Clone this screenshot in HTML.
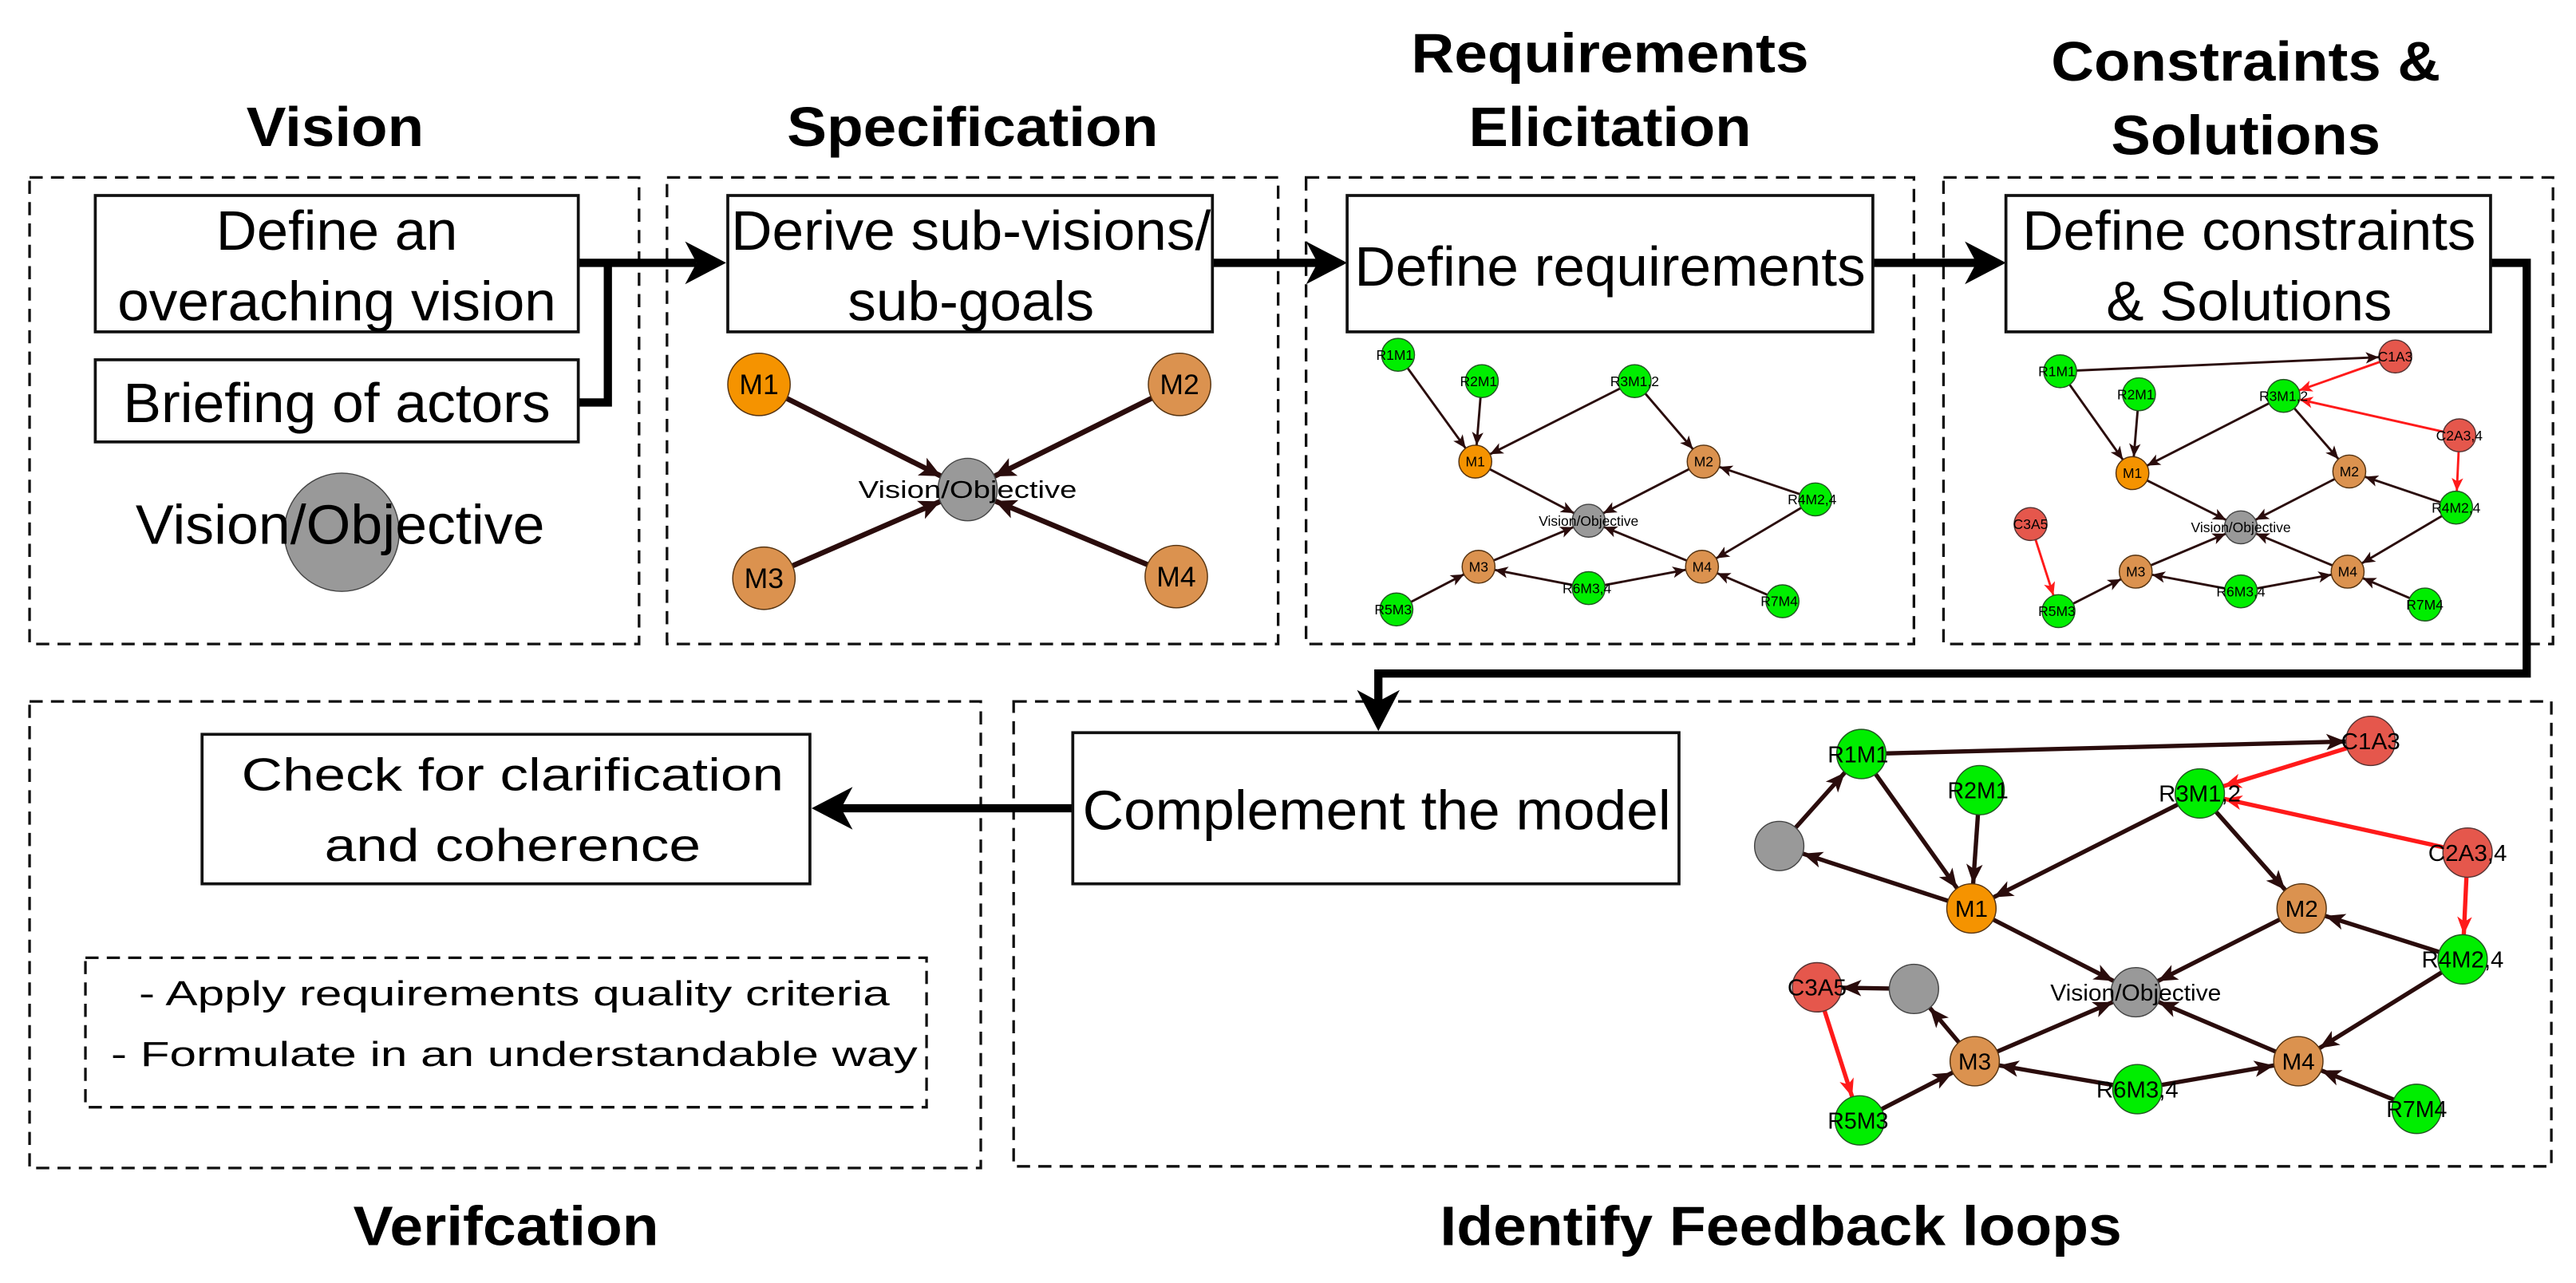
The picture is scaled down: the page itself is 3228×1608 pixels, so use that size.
<!DOCTYPE html>
<html><head><meta charset="utf-8"><style>
html,body{margin:0;padding:0;background:#fff;}
svg{display:block;}
text{font-family:"Liberation Sans Narrow","Liberation Sans",sans-serif;fill:#000;}
.t{font-weight:bold;font-size:34px;}
.b{font-size:34px;}
.s{font-size:8.5px;}
.g{font-size:14px;}
.db{fill:none;stroke:#111;stroke-width:1.6;stroke-dasharray:8 5;}
.sb{fill:#fff;stroke:#111;stroke-width:1.8;}
.fl{stroke:#000;stroke-width:5;fill:none;}
.eB{stroke:#2a0c0c;stroke-width:2.6;marker-end:url(#mB);}
.rB{stroke:#ff1a1a;stroke-width:2.6;marker-end:url(#mBr);}
.eS{stroke:#2a0c0c;stroke-width:1.4;marker-end:url(#mS);}
.rS{stroke:#ff1a1a;stroke-width:1.4;marker-end:url(#mSr);}
.eP{stroke:#2a0c0c;stroke-width:3.2;marker-end:url(#mP);}
.gr{fill:#00ee00;stroke:#225522;stroke-width:.7;}
.rd{fill:#e5574c;stroke:#553333;stroke-width:.7;}
.o1{fill:#f59300;stroke:#553311;stroke-width:.7;}
.o2{fill:#db924f;stroke:#553311;stroke-width:.7;}
.gy{fill:#999;stroke:#444;stroke-width:.7;}
</style></head><body>
<svg width="3228" height="1608" viewBox="0 0 1568 781" preserveAspectRatio="none" xmlns="http://www.w3.org/2000/svg">
<defs>
<marker id="mB" markerUnits="userSpaceOnUse" viewBox="-40 -10 40 20" markerWidth="40" markerHeight="20" refX="0" refY="0" orient="auto"><path d="M-15,0 L-27,-5 L-24,0 L-27,5 z" fill="#2a0c0c"/></marker>
<marker id="mBr" markerUnits="userSpaceOnUse" viewBox="-40 -10 40 20" markerWidth="40" markerHeight="20" refX="0" refY="0" orient="auto"><path d="M-15,0 L-26,-4.5 L-23,0 L-26,4.5 z" fill="#ff1a1a"/></marker>
<marker id="mS" markerUnits="userSpaceOnUse" viewBox="-40 -10 40 20" markerWidth="40" markerHeight="20" refX="0" refY="0" orient="auto"><path d="M-10,0 L-18,-3.5 L-16,0 L-18,3.5 z" fill="#2a0c0c"/></marker>
<marker id="mSr" markerUnits="userSpaceOnUse" viewBox="-40 -10 40 20" markerWidth="40" markerHeight="20" refX="0" refY="0" orient="auto"><path d="M-10,0 L-18,-3.5 L-16,0 L-18,3.5 z" fill="#ff1a1a"/></marker>
<marker id="mP" markerUnits="userSpaceOnUse" viewBox="-40 -10 40 20" markerWidth="40" markerHeight="20" refX="0" refY="0" orient="auto"><path d="M-18,0 L-31,-6 L-28,0 L-31,6 z" fill="#2a0c0c"/></marker>
</defs>

<!-- Titles -->
<text class="t" x="204" y="89" text-anchor="middle" textLength="108" lengthAdjust="spacingAndGlyphs">Vision</text>
<text class="t" x="592" y="89" text-anchor="middle" textLength="226" lengthAdjust="spacingAndGlyphs">Specification</text>
<text class="t" x="980" y="44" text-anchor="middle" textLength="242" lengthAdjust="spacingAndGlyphs">Requirements</text>
<text class="t" x="980" y="89" text-anchor="middle" textLength="172" lengthAdjust="spacingAndGlyphs">Elicitation</text>
<text class="t" x="1367" y="49" text-anchor="middle" textLength="237" lengthAdjust="spacingAndGlyphs">Constraints &amp;</text>
<text class="t" x="1367" y="94" text-anchor="middle" textLength="164" lengthAdjust="spacingAndGlyphs">Solutions</text>
<text class="t" x="308" y="758" text-anchor="middle" textLength="186" lengthAdjust="spacingAndGlyphs">Verifcation</text>
<text class="t" x="1084" y="758" text-anchor="middle" textLength="415" lengthAdjust="spacingAndGlyphs">Identify Feedback loops</text>

<!-- Dashed panels -->
<rect class="db" x="18" y="108" width="371" height="284"/>
<rect class="db" x="406" y="108" width="372" height="284"/>
<rect class="db" x="795" y="108" width="370" height="284"/>
<rect class="db" x="1183" y="108" width="371" height="284"/>
<rect class="db" x="18" y="427" width="579" height="284"/>
<rect class="db" x="617" y="427" width="936" height="283"/>
<rect class="db" x="52" y="583" width="512" height="91"/>

<!-- Flow connectors -->
<line class="fl" x1="352" y1="160" x2="424" y2="160"/>
<polyline class="fl" points="352,245 370,245 370,160"/>
<polygon points="442,160 417,147 424,160 417,173" fill="#000"/>
<line class="fl" x1="738" y1="160" x2="805" y2="160"/>
<polygon points="820,160 795,147 802,160 795,173" fill="#000"/>
<line class="fl" x1="1140" y1="160" x2="1206" y2="160"/>
<polygon points="1221,160 1196,147 1203,160 1196,173" fill="#000"/>
<polyline class="fl" points="1516,160 1538,160 1538,410 839,410 839,430"/>
<polygon points="839,445 826,420 839,427 852,420" fill="#000"/>
<line class="fl" x1="653" y1="492" x2="510" y2="492"/>
<polygon points="494,492 519,479 512,492 519,505" fill="#000"/>

<!-- Solid boxes -->
<rect class="sb" x="58" y="119" width="294" height="83"/>
<text class="b" x="205" y="152" text-anchor="middle" textLength="147" lengthAdjust="spacingAndGlyphs">Define an</text>
<text class="b" x="205" y="195" text-anchor="middle" textLength="267" lengthAdjust="spacingAndGlyphs">overaching vision</text>
<rect class="sb" x="58" y="219" width="294" height="50"/>
<text class="b" x="205" y="257" text-anchor="middle" textLength="260" lengthAdjust="spacingAndGlyphs">Briefing of actors</text>
<ellipse cx="208" cy="324" rx="35" ry="36" class="gy"/>
<text class="b" x="207" y="331" text-anchor="middle" font-size="32" textLength="249" lengthAdjust="spacingAndGlyphs">Vision/Objective</text>

<rect class="sb" x="443" y="119" width="295" height="83"/>
<text class="b" x="591" y="152" text-anchor="middle" textLength="292" lengthAdjust="spacingAndGlyphs">Derive sub-visions/</text>
<text class="b" x="591" y="195" text-anchor="middle" textLength="150" lengthAdjust="spacingAndGlyphs">sub-goals</text>

<rect class="sb" x="820" y="119" width="320" height="83"/>
<text class="b" x="980" y="174" text-anchor="middle" textLength="311" lengthAdjust="spacingAndGlyphs">Define requirements</text>

<rect class="sb" x="1221" y="119" width="295" height="83"/>
<text class="b" x="1369" y="152" text-anchor="middle" textLength="276" lengthAdjust="spacingAndGlyphs">Define constraints</text>
<text class="b" x="1369" y="195" text-anchor="middle" textLength="174" lengthAdjust="spacingAndGlyphs">&amp; Solutions</text>

<rect class="sb" x="653" y="446" width="369" height="92"/>
<text class="b" x="838" y="505" text-anchor="middle" textLength="358" lengthAdjust="spacingAndGlyphs">Complement the model</text>

<rect class="sb" x="123" y="447" width="370" height="91"/>
<text x="312" y="481" text-anchor="middle" font-size="28" textLength="330" lengthAdjust="spacingAndGlyphs">Check for clarification</text>
<text x="312" y="524" text-anchor="middle" font-size="28" textLength="229" lengthAdjust="spacingAndGlyphs">and coherence</text>
<text x="313" y="612" text-anchor="middle" font-size="21" textLength="457" lengthAdjust="spacingAndGlyphs">- Apply requirements quality criteria</text>
<text x="313" y="649" text-anchor="middle" font-size="21" textLength="491" lengthAdjust="spacingAndGlyphs">- Formulate in an understandable way</text>

<!-- Specification graph -->
<line class="eP" x1="462" y1="234" x2="589" y2="298"/>
<line class="eP" x1="718" y1="234" x2="589" y2="298"/>
<line class="eP" x1="465" y1="352" x2="589" y2="298"/>
<line class="eP" x1="716" y1="351" x2="589" y2="298"/>
<ellipse class="o1" cx="462" cy="234" rx="19" ry="19"/>
<ellipse class="o2" cx="718" cy="234" rx="19" ry="19"/>
<ellipse class="o2" cx="465" cy="352" rx="19" ry="19"/>
<ellipse class="o2" cx="716" cy="351" rx="19" ry="19"/>
<ellipse class="gy" cx="589" cy="298" rx="18" ry="19"/>
<text x="462" y="240" text-anchor="middle" font-size="17" textLength="24" lengthAdjust="spacingAndGlyphs">M1</text>
<text x="718" y="240" text-anchor="middle" font-size="17" textLength="24" lengthAdjust="spacingAndGlyphs">M2</text>
<text x="465" y="358" text-anchor="middle" font-size="17" textLength="24" lengthAdjust="spacingAndGlyphs">M3</text>
<text x="716" y="357" text-anchor="middle" font-size="17" textLength="24" lengthAdjust="spacingAndGlyphs">M4</text>
<text x="589" y="303" text-anchor="middle" font-size="15" textLength="133" lengthAdjust="spacingAndGlyphs">Vision/Objective</text>

<!-- Requirements graph -->
<g>
<line class="eS" x1="851" y1="216" x2="898" y2="281"/>
<line class="eS" x1="902" y1="232" x2="898" y2="281"/>
<line class="eS" x1="995" y1="232" x2="898" y2="281"/>
<line class="eS" x1="995" y1="232" x2="1037" y2="281"/>
<line class="eS" x1="898" y1="281" x2="967" y2="317"/>
<line class="eS" x1="1037" y1="281" x2="967" y2="317"/>
<line class="eS" x1="1105" y1="304" x2="1037" y2="281"/>
<line class="eS" x1="1105" y1="304" x2="1036" y2="345"/>
<line class="eS" x1="900" y1="345" x2="967" y2="317"/>
<line class="eS" x1="1036" y1="345" x2="967" y2="317"/>
<line class="eS" x1="967" y1="358" x2="900" y2="345"/>
<line class="eS" x1="967" y1="358" x2="1036" y2="345"/>
<line class="eS" x1="850" y1="371" x2="900" y2="345"/>
<line class="eS" x1="1085" y1="366" x2="1036" y2="345"/>
<ellipse class="gr" cx="851" cy="216" rx="10" ry="10"/>
<ellipse class="gr" cx="902" cy="232" rx="10" ry="10"/>
<ellipse class="gr" cx="995" cy="232" rx="10" ry="10"/>
<ellipse class="o1" cx="898" cy="281" rx="10" ry="10"/>
<ellipse class="o2" cx="1037" cy="281" rx="10" ry="10"/>
<ellipse class="gr" cx="1105" cy="304" rx="10" ry="10"/>
<ellipse class="gy" cx="967" cy="317" rx="10" ry="10"/>
<ellipse class="o2" cx="900" cy="345" rx="10" ry="10"/>
<ellipse class="o2" cx="1036" cy="345" rx="10" ry="10"/>
<ellipse class="gr" cx="967" cy="358" rx="10" ry="10"/>
<ellipse class="gr" cx="850" cy="371" rx="10" ry="10"/>
<ellipse class="gr" cx="1085" cy="366" rx="10" ry="10"/>
<text class="s" x="849" y="219" text-anchor="middle">R1M1</text>
<text class="s" x="900" y="235" text-anchor="middle">R2M1</text>
<text class="s" x="995" y="235" text-anchor="middle">R3M1,2</text>
<text class="s" x="898" y="284" text-anchor="middle">M1</text>
<text class="s" x="1037" y="284" text-anchor="middle">M2</text>
<text class="s" x="1103" y="307" text-anchor="middle">R4M2,4</text>
<text class="s" x="967" y="320" text-anchor="middle">Vision/Objective</text>
<text class="s" x="900" y="348" text-anchor="middle">M3</text>
<text class="s" x="1036" y="348" text-anchor="middle">M4</text>
<text class="s" x="966" y="361" text-anchor="middle">R6M3,4</text>
<text class="s" x="848" y="374" text-anchor="middle">R5M3</text>
<text class="s" x="1083" y="369" text-anchor="middle">R7M4</text>
</g>

<!-- Constraints graph -->
<g>
<line class="eS" x1="1254" y1="226" x2="1458" y2="217"/>
<line class="rS" x1="1458" y1="217" x2="1390" y2="241"/>
<line class="rS" x1="1497" y1="265" x2="1390" y2="241"/>
<line class="rS" x1="1497" y1="265" x2="1495" y2="309"/>
<line class="rS" x1="1236" y1="319" x2="1253" y2="372"/>
<line class="eS" x1="1254" y1="226" x2="1298" y2="288"/>
<line class="eS" x1="1302" y1="240" x2="1298" y2="288"/>
<line class="eS" x1="1390" y1="241" x2="1298" y2="288"/>
<line class="eS" x1="1390" y1="241" x2="1430" y2="287"/>
<line class="eS" x1="1298" y1="288" x2="1364" y2="321"/>
<line class="eS" x1="1430" y1="287" x2="1364" y2="321"/>
<line class="eS" x1="1495" y1="309" x2="1430" y2="287"/>
<line class="eS" x1="1495" y1="309" x2="1429" y2="348"/>
<line class="eS" x1="1300" y1="348" x2="1364" y2="321"/>
<line class="eS" x1="1429" y1="348" x2="1364" y2="321"/>
<line class="eS" x1="1364" y1="360" x2="1300" y2="348"/>
<line class="eS" x1="1364" y1="360" x2="1429" y2="348"/>
<line class="eS" x1="1253" y1="372" x2="1300" y2="348"/>
<line class="eS" x1="1476" y1="368" x2="1429" y2="348"/>
<ellipse class="gr" cx="1254" cy="226" rx="10" ry="10"/>
<ellipse class="rd" cx="1458" cy="217" rx="10" ry="10"/>
<ellipse class="gr" cx="1302" cy="240" rx="10" ry="10"/>
<ellipse class="gr" cx="1390" cy="241" rx="10" ry="10"/>
<ellipse class="rd" cx="1497" cy="265" rx="10" ry="10"/>
<ellipse class="o1" cx="1298" cy="288" rx="10" ry="10"/>
<ellipse class="o2" cx="1430" cy="287" rx="10" ry="10"/>
<ellipse class="gr" cx="1495" cy="309" rx="10" ry="10"/>
<ellipse class="gy" cx="1364" cy="321" rx="10" ry="10"/>
<ellipse class="rd" cx="1236" cy="319" rx="10" ry="10"/>
<ellipse class="o2" cx="1300" cy="348" rx="10" ry="10"/>
<ellipse class="o2" cx="1429" cy="348" rx="10" ry="10"/>
<ellipse class="gr" cx="1364" cy="360" rx="10" ry="10"/>
<ellipse class="gr" cx="1253" cy="372" rx="10" ry="10"/>
<ellipse class="gr" cx="1476" cy="368" rx="10" ry="10"/>
<text class="s" x="1252" y="229" text-anchor="middle">R1M1</text>
<text class="s" x="1458" y="220" text-anchor="middle">C1A3</text>
<text class="s" x="1300" y="243" text-anchor="middle">R2M1</text>
<text class="s" x="1390" y="244" text-anchor="middle">R3M1,2</text>
<text class="s" x="1497" y="268" text-anchor="middle">C2A3,4</text>
<text class="s" x="1298" y="291" text-anchor="middle">M1</text>
<text class="s" x="1430" y="290" text-anchor="middle">M2</text>
<text class="s" x="1495" y="312" text-anchor="middle">R4M2,4</text>
<text class="s" x="1364" y="324" text-anchor="middle">Vision/Objective</text>
<text class="s" x="1236" y="322" text-anchor="middle">C3A5</text>
<text class="s" x="1300" y="351" text-anchor="middle">M3</text>
<text class="s" x="1429" y="351" text-anchor="middle">M4</text>
<text class="s" x="1364" y="363" text-anchor="middle">R6M3,4</text>
<text class="s" x="1252" y="375" text-anchor="middle">R5M3</text>
<text class="s" x="1476" y="371" text-anchor="middle">R7M4</text>
</g>

<!-- Feedback loops graph -->
<g>
<line class="eB" x1="1133" y1="459" x2="1443" y2="451"/>
<line class="rB" x1="1443" y1="451" x2="1339" y2="483"/>
<line class="rB" x1="1502" y1="519" x2="1339" y2="483"/>
<line class="rB" x1="1502" y1="519" x2="1499" y2="584"/>
<line class="rB" x1="1106" y1="601" x2="1132" y2="682"/>
<line class="eB" x1="1083" y1="515" x2="1133" y2="459"/>
<line class="eB" x1="1133" y1="459" x2="1200" y2="553"/>
<line class="eB" x1="1205" y1="481" x2="1200" y2="553"/>
<line class="eB" x1="1339" y1="483" x2="1200" y2="553"/>
<line class="eB" x1="1339" y1="483" x2="1401" y2="553"/>
<line class="eB" x1="1200" y1="553" x2="1083" y2="515"/>
<line class="eB" x1="1200" y1="553" x2="1300" y2="604"/>
<line class="eB" x1="1401" y1="553" x2="1300" y2="604"/>
<line class="eB" x1="1499" y1="584" x2="1401" y2="553"/>
<line class="eB" x1="1499" y1="584" x2="1399" y2="646"/>
<line class="eB" x1="1202" y1="646" x2="1300" y2="604"/>
<line class="eB" x1="1399" y1="646" x2="1300" y2="604"/>
<line class="eB" x1="1301" y1="663" x2="1202" y2="646"/>
<line class="eB" x1="1301" y1="663" x2="1399" y2="646"/>
<line class="eB" x1="1132" y1="682" x2="1202" y2="646"/>
<line class="eB" x1="1471" y1="675" x2="1399" y2="646"/>
<line class="eB" x1="1202" y1="646" x2="1165" y2="602"/>
<line class="eB" x1="1165" y1="602" x2="1106" y2="601"/>
<ellipse class="gr" cx="1133" cy="459" rx="15" ry="15"/>
<ellipse class="rd" cx="1443" cy="451" rx="15" ry="15"/>
<ellipse class="gr" cx="1205" cy="481" rx="15" ry="15"/>
<ellipse class="gr" cx="1339" cy="483" rx="15" ry="15"/>
<ellipse class="rd" cx="1502" cy="519" rx="15" ry="15"/>
<ellipse class="gy" cx="1083" cy="515" rx="15" ry="15"/>
<ellipse class="o1" cx="1200" cy="553" rx="15" ry="15"/>
<ellipse class="o2" cx="1401" cy="553" rx="15" ry="15"/>
<ellipse class="gr" cx="1499" cy="584" rx="15" ry="15"/>
<ellipse class="gy" cx="1300" cy="604" rx="15" ry="15"/>
<ellipse class="rd" cx="1106" cy="601" rx="15" ry="15"/>
<ellipse class="gy" cx="1165" cy="602" rx="15" ry="15"/>
<ellipse class="o2" cx="1202" cy="646" rx="15" ry="15"/>
<ellipse class="o2" cx="1399" cy="646" rx="15" ry="15"/>
<ellipse class="gr" cx="1301" cy="663" rx="15" ry="15"/>
<ellipse class="gr" cx="1132" cy="682" rx="15" ry="15"/>
<ellipse class="gr" cx="1471" cy="675" rx="15" ry="15"/>
<text class="g" x="1131" y="464" text-anchor="middle" textLength="37" lengthAdjust="spacingAndGlyphs">R1M1</text>
<text class="g" x="1443" y="456" text-anchor="middle" textLength="36" lengthAdjust="spacingAndGlyphs">C1A3</text>
<text class="g" x="1204" y="486" text-anchor="middle" textLength="37" lengthAdjust="spacingAndGlyphs">R2M1</text>
<text class="g" x="1339" y="488" text-anchor="middle" textLength="50" lengthAdjust="spacingAndGlyphs">R3M1,2</text>
<text class="g" x="1502" y="524" text-anchor="middle" textLength="48" lengthAdjust="spacingAndGlyphs">C2A3,4</text>
<text class="g" x="1200" y="558" text-anchor="middle" textLength="20" lengthAdjust="spacingAndGlyphs">M1</text>
<text class="g" x="1401" y="558" text-anchor="middle" textLength="20" lengthAdjust="spacingAndGlyphs">M2</text>
<text class="g" x="1499" y="589" text-anchor="middle" textLength="50" lengthAdjust="spacingAndGlyphs">R4M2,4</text>
<text class="g" x="1300" y="609" text-anchor="middle" textLength="104" lengthAdjust="spacingAndGlyphs">Vision/Objective</text>
<text class="g" x="1106" y="606" text-anchor="middle" textLength="36" lengthAdjust="spacingAndGlyphs">C3A5</text>
<text class="g" x="1202" y="651" text-anchor="middle" textLength="20" lengthAdjust="spacingAndGlyphs">M3</text>
<text class="g" x="1399" y="651" text-anchor="middle" textLength="20" lengthAdjust="spacingAndGlyphs">M4</text>
<text class="g" x="1301" y="668" text-anchor="middle" textLength="50" lengthAdjust="spacingAndGlyphs">R6M3,4</text>
<text class="g" x="1131" y="687" text-anchor="middle" textLength="37" lengthAdjust="spacingAndGlyphs">R5M3</text>
<text class="g" x="1471" y="680" text-anchor="middle" textLength="37" lengthAdjust="spacingAndGlyphs">R7M4</text>
</g>
</svg>
</body></html>
